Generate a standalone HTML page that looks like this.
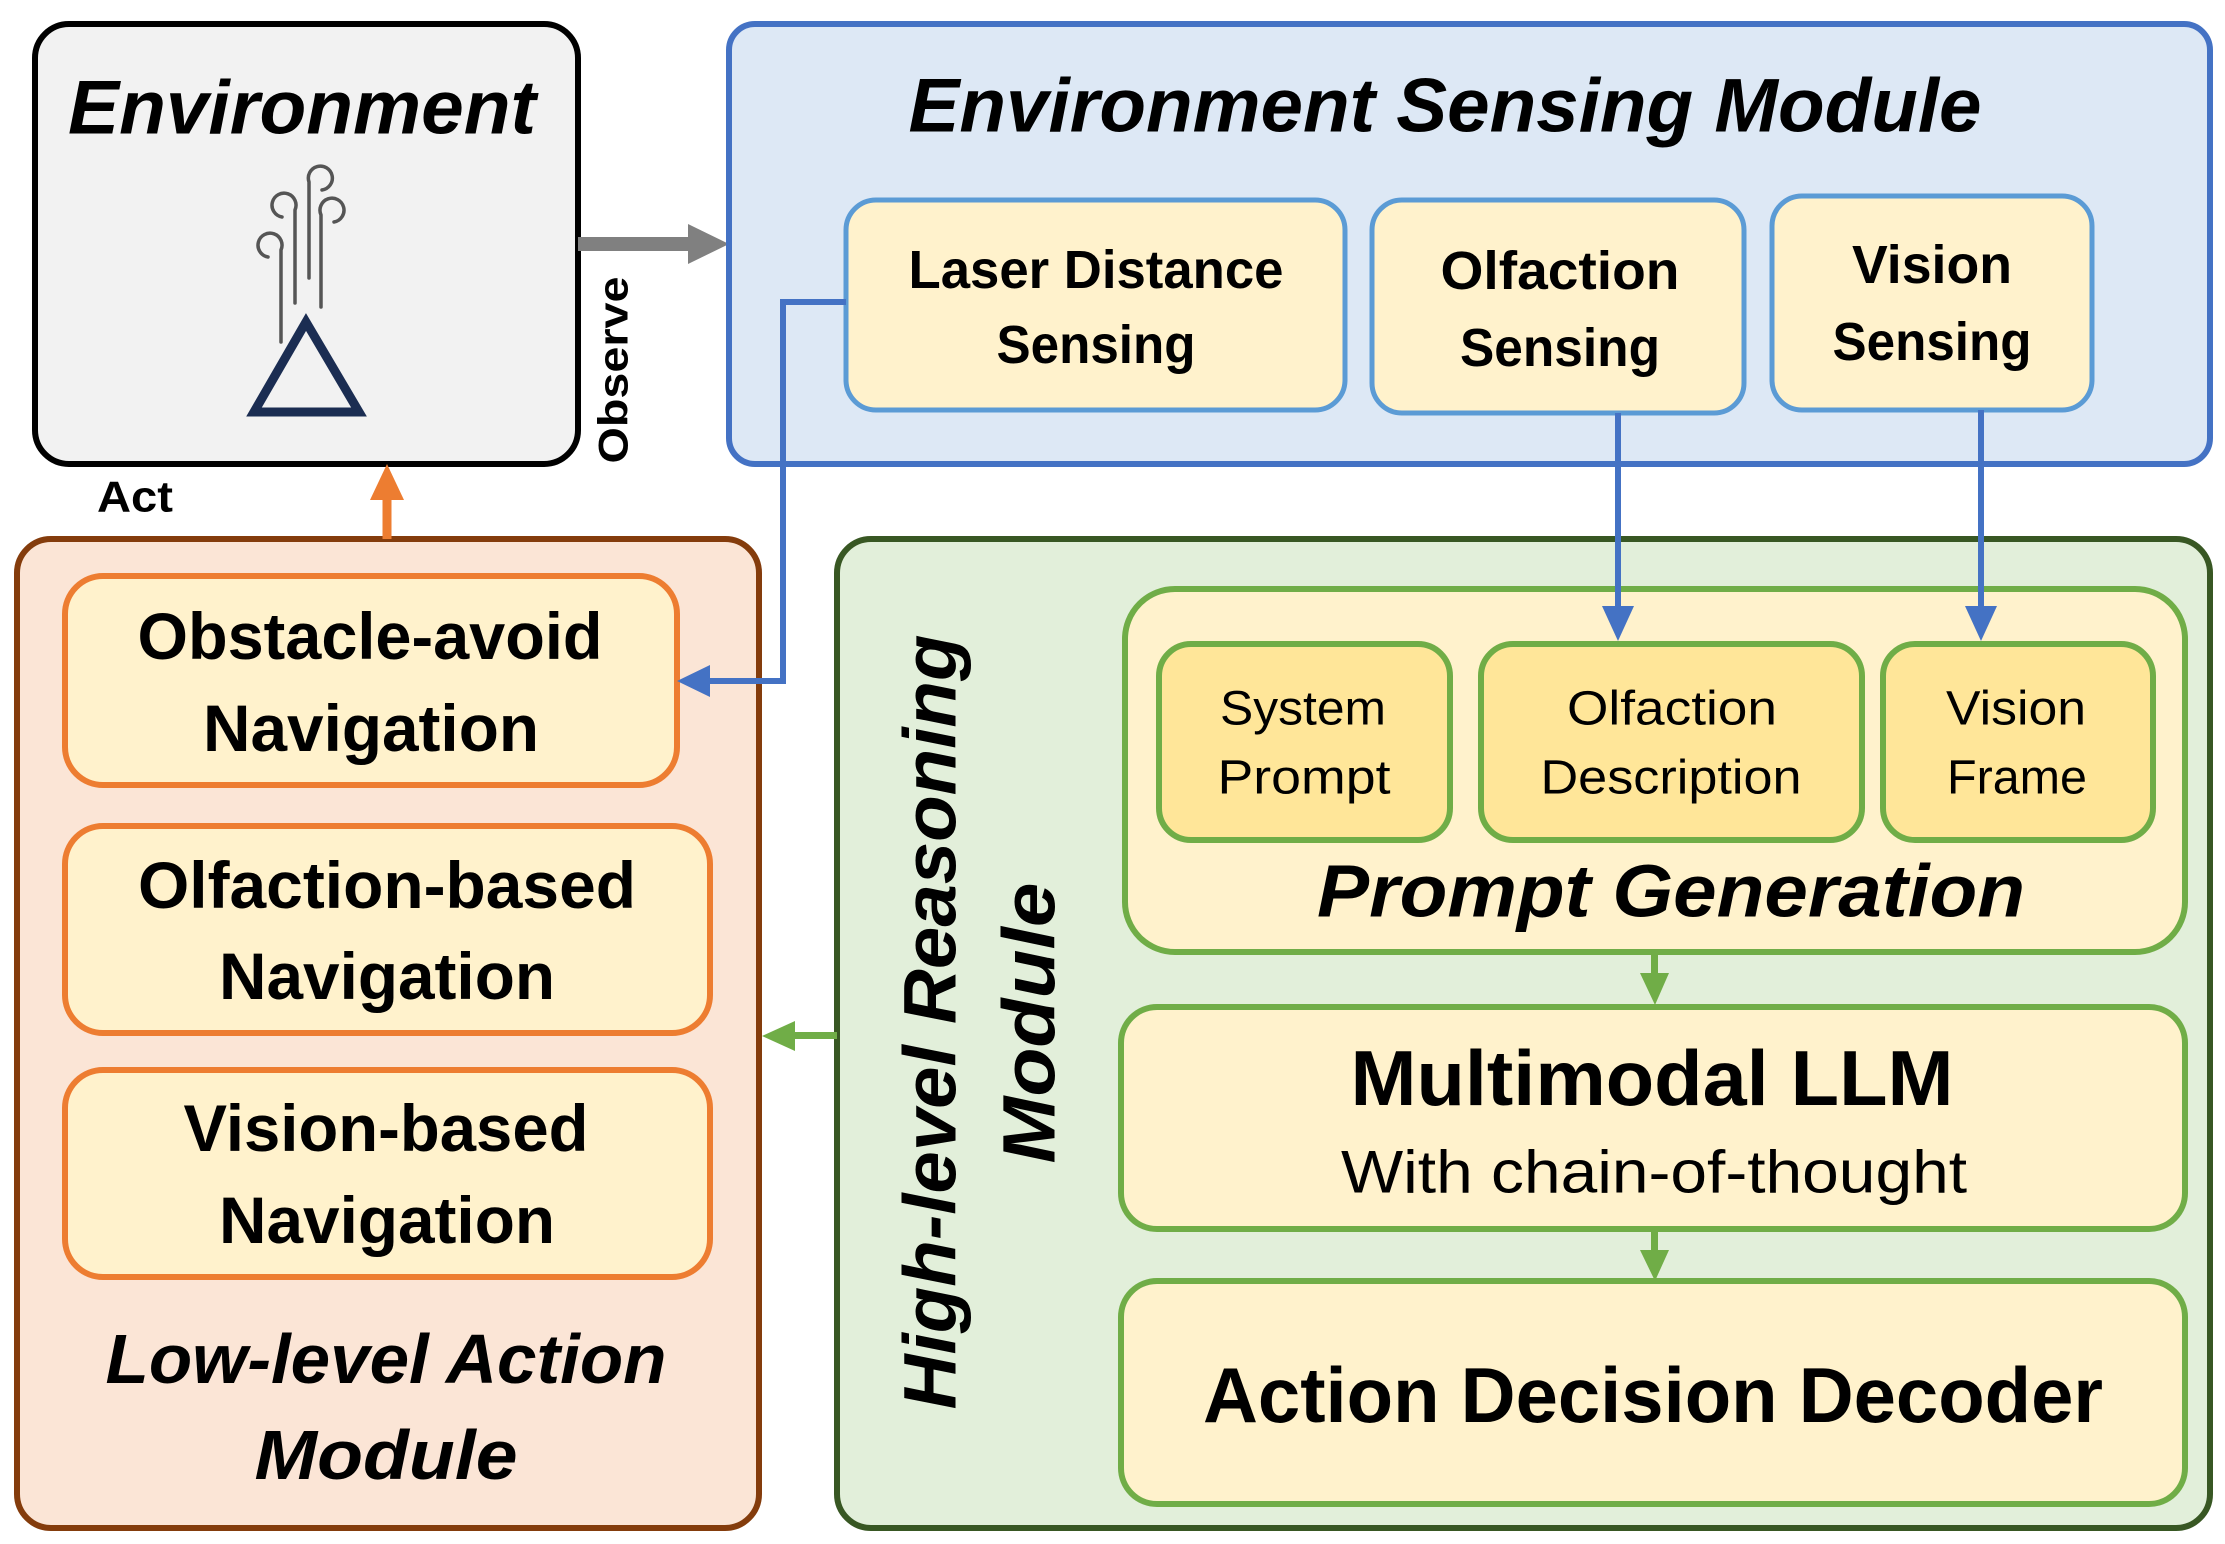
<!DOCTYPE html>
<html><head><meta charset="utf-8"><style>
html,body{margin:0;padding:0;background:#fff;}
svg{display:block;}
text{font-family:"Liberation Sans",sans-serif;}
</style></head><body>
<svg width="2225" height="1544" viewBox="0 0 2225 1544" xmlns="http://www.w3.org/2000/svg">
<defs>
<marker id="ab" markerWidth="6" markerHeight="6" refX="5" refY="3" orient="auto" markerUnits="strokeWidth"><path d="M0,0 L6,3 L0,6 z" fill="#4472c4"/></marker>
</defs>
<!-- Environment -->
<rect x="35" y="24" width="543" height="440" rx="34" fill="#f2f2f2" stroke="#000" stroke-width="6"/>
<text x="302" y="108" font-size="76" font-weight="bold" font-style="italic" text-anchor="middle" dominant-baseline="central" textLength="468" lengthAdjust="spacingAndGlyphs">Environment</text>
<g fill="none" stroke="#555" stroke-width="3.5" stroke-linecap="round">
<path d="M281,342 L281,250 A12,12 0 1 0 268,257"/>
<path d="M295,303 L295,210 A12,12 0 1 0 282,217"/>
<path d="M309,278 L309,182 A12,12 0 1 1 322,190"/>
<path d="M321,307 L321,215 A12,12 0 1 1 334,222"/>
</g>
<polygon points="306,322 254,412 359,412" fill="none" stroke="#1b2d52" stroke-width="9"/>
<!-- Observe arrow -->
<line x1="578" y1="244" x2="690" y2="244" stroke="#808080" stroke-width="14"/>
<polygon points="688,224 729,244 688,264" fill="#808080"/>
<text transform="translate(613,370) rotate(-90)" font-size="42" font-weight="bold" text-anchor="middle" dominant-baseline="central" textLength="187" lengthAdjust="spacingAndGlyphs">Observe</text>
<text x="135" y="497" font-size="44" font-weight="bold" text-anchor="middle" dominant-baseline="central" textLength="76" lengthAdjust="spacingAndGlyphs">Act</text>
<!-- ESM -->
<rect x="729" y="24" width="1481" height="440" rx="26" fill="#dde8f5" stroke="#4472c4" stroke-width="6"/>
<text x="1445" y="106" font-size="76" font-weight="bold" font-style="italic" text-anchor="middle" dominant-baseline="central" textLength="1073" lengthAdjust="spacingAndGlyphs">Environment Sensing Module</text>
<g fill="#fff2cc" stroke="#5b9bd5" stroke-width="5">
<rect x="846" y="200" width="499" height="210" rx="30"/>
<rect x="1372" y="200" width="372" height="213" rx="30"/>
<rect x="1772" y="196" width="320" height="214" rx="30"/>
</g>
<g font-size="54" font-weight="bold" text-anchor="middle" dominant-baseline="central">
<text x="1096" y="270" textLength="375" lengthAdjust="spacingAndGlyphs">Laser Distance</text>
<text x="1096" y="345" textLength="199" lengthAdjust="spacingAndGlyphs">Sensing</text>
<text x="1560" y="271" textLength="239" lengthAdjust="spacingAndGlyphs">Olfaction</text>
<text x="1560" y="348" textLength="200" lengthAdjust="spacingAndGlyphs">Sensing</text>
<text x="1932" y="265" textLength="160" lengthAdjust="spacingAndGlyphs">Vision</text>
<text x="1932" y="342" textLength="199" lengthAdjust="spacingAndGlyphs">Sensing</text>
</g>
<!-- Low-level -->
<rect x="17" y="539" width="742" height="989" rx="34" fill="#fbe5d6" stroke="#843c0c" stroke-width="6"/>
<line x1="387" y1="539" x2="387" y2="495" stroke="#ed7d31" stroke-width="9"/>
<polygon points="370,500 387,464 404,500" fill="#ed7d31"/>
<g fill="#fff2cc" stroke="#ed7d31" stroke-width="6">
<rect x="65" y="576" width="612" height="209" rx="38"/>
<rect x="65" y="826" width="645" height="207" rx="38"/>
<rect x="65" y="1070" width="645" height="207" rx="38"/>
</g>
<g font-size="66" font-weight="bold" text-anchor="middle" dominant-baseline="central">
<text x="370" y="636" textLength="465" lengthAdjust="spacingAndGlyphs">Obstacle-avoid</text>
<text x="371" y="728" textLength="336" lengthAdjust="spacingAndGlyphs">Navigation</text>
<text x="387" y="885" textLength="498" lengthAdjust="spacingAndGlyphs">Olfaction-based</text>
<text x="387" y="976" textLength="336" lengthAdjust="spacingAndGlyphs">Navigation</text>
<text x="386" y="1128" textLength="405" lengthAdjust="spacingAndGlyphs">Vision-based</text>
<text x="387" y="1220" textLength="336" lengthAdjust="spacingAndGlyphs">Navigation</text>
</g>
<g font-size="70" font-weight="bold" font-style="italic" text-anchor="middle" dominant-baseline="central">
<text x="386" y="1359" textLength="561" lengthAdjust="spacingAndGlyphs">Low-level Action</text>
<text x="386" y="1455" textLength="263" lengthAdjust="spacingAndGlyphs">Module</text>
</g>
<!-- High-level -->
<rect x="837" y="539" width="1373" height="989" rx="34" fill="#e2efda" stroke="#385723" stroke-width="6"/>
<g font-size="74" font-weight="bold" font-style="italic" text-anchor="middle" dominant-baseline="central">
<text transform="translate(930,1022) rotate(-90)" textLength="775" lengthAdjust="spacingAndGlyphs">High-level Reasoning</text>
<text transform="translate(1029,1023) rotate(-90)" textLength="281" lengthAdjust="spacingAndGlyphs">Module</text>
</g>
<rect x="1125" y="589" width="1060" height="363" rx="50" fill="#fff2cc" stroke="#70ad47" stroke-width="6"/>
<g fill="#ffe699" stroke="#70ad47" stroke-width="6">
<rect x="1159" y="644" width="291" height="196" rx="32"/>
<rect x="1481" y="644" width="381" height="196" rx="32"/>
<rect x="1883" y="644" width="270" height="196" rx="32"/>
</g>
<g font-size="48" text-anchor="middle" dominant-baseline="central">
<text x="1303" y="709" textLength="166" lengthAdjust="spacingAndGlyphs">System</text>
<text x="1304" y="778" textLength="173" lengthAdjust="spacingAndGlyphs">Prompt</text>
<text x="1672" y="709" textLength="210" lengthAdjust="spacingAndGlyphs">Olfaction</text>
<text x="1671" y="778" textLength="261" lengthAdjust="spacingAndGlyphs">Description</text>
<text x="2016" y="709" textLength="140" lengthAdjust="spacingAndGlyphs">Vision</text>
<text x="2017" y="778" textLength="140" lengthAdjust="spacingAndGlyphs">Frame</text>
</g>
<text x="1671" y="891" font-size="74" font-weight="bold" font-style="italic" text-anchor="middle" dominant-baseline="central" textLength="708" lengthAdjust="spacingAndGlyphs">Prompt Generation</text>
<rect x="1121" y="1007" width="1064" height="222" rx="36" fill="#fff2cc" stroke="#70ad47" stroke-width="6"/>
<text x="1652" y="1078" font-size="78" font-weight="bold" text-anchor="middle" dominant-baseline="central" textLength="603" lengthAdjust="spacingAndGlyphs">Multimodal LLM</text>
<text x="1654" y="1172" font-size="60" text-anchor="middle" dominant-baseline="central" textLength="626" lengthAdjust="spacingAndGlyphs">With chain-of-thought</text>
<rect x="1121" y="1281" width="1064" height="223" rx="36" fill="#fff2cc" stroke="#70ad47" stroke-width="6"/>
<text x="1653" y="1395" font-size="78" font-weight="bold" text-anchor="middle" dominant-baseline="central" textLength="900" lengthAdjust="spacingAndGlyphs">Action Decision Decoder</text>
<!-- green arrows -->
<g fill="#70ad47" stroke="none">
<rect x="1651" y="952" width="7" height="25"/>
<polygon points="1640,973 1669,973 1655,1005"/>
<rect x="1651" y="1229" width="7" height="25"/>
<polygon points="1640,1250 1669,1250 1655,1281"/>
<rect x="790" y="1032" width="47" height="7"/>
<polygon points="762,1036 795,1021 795,1051"/>
</g>
<!-- blue connectors -->
<g fill="none" stroke="#4472c4" stroke-width="6">
<polyline points="846,302 783,302 783,681 705,681"/>
<line x1="1618" y1="413" x2="1618" y2="610"/>
<line x1="1981" y1="410" x2="1981" y2="610"/>
</g>
<g fill="#4472c4">
<polygon points="677,681 710,665 710,697"/>
<polygon points="1602,606 1634,606 1618,641"/>
<polygon points="1965,606 1997,606 1981,641"/>
</g>
</svg>
</body></html>
